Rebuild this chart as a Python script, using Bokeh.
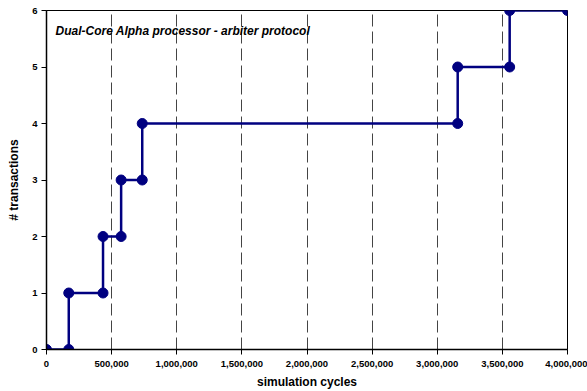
from bokeh.plotting import figure
from bokeh.embed import file_html
from bokeh.resources import INLINE
from bokeh.models import FixedTicker, NumeralTickFormatter, Range1d, Label

cycles = [0, 171000, 171000, 434000, 434000, 573000, 573000, 735000, 735000,
          3157000, 3157000, 3556000, 3556000, 4000000]
transactions = [0, 0, 1, 1, 2, 2, 3, 3, 4, 4, 5, 5, 6, 6]
x_ticks = [0, 500000, 1000000, 1500000, 2000000, 2500000, 3000000, 3500000, 4000000]
y_ticks = [0, 1, 2, 3, 4, 5, 6]
title_text = "Dual-Core Alpha processor - arbiter protocol"

FONT = "Liberation Sans"

p = figure(width=587, height=391, output_backend="svg", toolbar_location=None,
           x_range=Range1d(0, 4000000), y_range=Range1d(0, 6),
           min_border_left=46, min_border_top=10, min_border_right=20, min_border_bottom=42)

p.outline_line_color = "black"
p.outline_line_width = 1
p.background_fill_color = "white"

p.line(cycles, transactions, line_color="#000080", line_width=2.5)
p.scatter(cycles, transactions, size=10, fill_color="#000080", line_color="#000080")

p.xaxis.ticker = FixedTicker(ticks=x_ticks)
p.yaxis.ticker = FixedTicker(ticks=y_ticks)
p.xaxis.formatter = NumeralTickFormatter(format="0,0")
for ax in (p.xaxis, p.yaxis):
    ax.major_label_text_font = FONT
    ax.major_label_text_font_style = "bold"
    ax.major_label_text_font_size = "9.5px"
    ax.major_label_text_color = "black"
    ax.axis_label_text_font = FONT
    ax.axis_label_text_font_style = "bold"
    ax.axis_label_text_font_size = "12px"
    ax.axis_label_text_color = "black"
    ax.minor_tick_line_color = None
    ax.major_tick_in = 0
    ax.major_tick_out = 5
    ax.axis_line_color = "black"
    ax.axis_line_width = 1.5
    ax.major_tick_line_color = "black"

p.xaxis.major_label_standoff = 6
p.xaxis.axis_label_standoff = 5
p.yaxis.major_label_standoff = 4
p.yaxis.axis_label_standoff = 8

p.xaxis.axis_label = "simulation cycles"
p.yaxis.axis_label = "# transactions"

p.xgrid.grid_line_color = "#444444"
p.xgrid.grid_line_dash = "12 5"
p.xgrid.grid_line_width = 1
p.ygrid.grid_line_color = None

title = Label(x=9, y=319, x_units="screen", y_units="screen", text=title_text,
              text_font=FONT, text_font_style="bold italic", text_font_size="12px",
              text_color="black", text_baseline="middle")
p.add_layout(title)

open("out.html", "w").write(file_html(p, INLINE))
